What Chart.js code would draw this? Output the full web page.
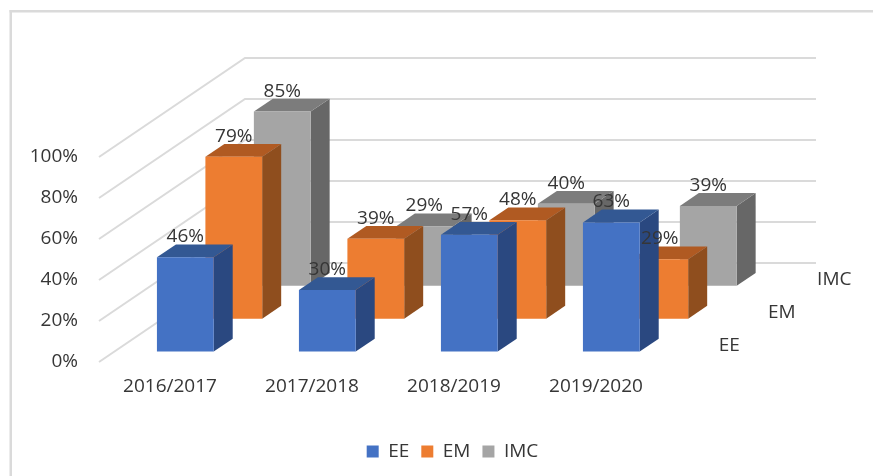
<!DOCTYPE html>
<html>
<head>
<meta charset="utf-8">
<style>
html,body{margin:0;padding:0;background:#fff;}
#wrap{position:relative;width:873px;height:476px;overflow:hidden;}
canvas{display:block;}
</style>
<script src="https://cdn.jsdelivr.net/npm/chart.js@4"></script>
</head>
<body>
<div id="wrap"><canvas id="c" width="873" height="476"></canvas></div>
<script>
const categories = ['2016/2017','2017/2018','2018/2019','2019/2020'];
const seriesEE  = [46,30,57,63];
const seriesEM  = [79,39,48,29];
const seriesIMC = [85,29,40,39];
const yTicks = [0,20,40,60,80,100];

const FONT = '"Open Sans"';
const SIZE = 19;
const INK = '#363636';
const GRID = '#DADADA';
const faces = [
  {front:'#4472C4', top:'#335893', side:'#2A4880'},
  {front:'#ED7D31', top:'#B05A22', side:'#8F4E1E'},
  {front:'#A5A5A5', top:'#7C7C7C', side:'#676767'}
];
// oblique projection of the depth axis
const DEPTH = {dx:146, dy:-99};
const ROW = {start:0.105, step:0.332, box:0.13};

function depthOffset(frac){ return {x:DEPTH.dx*frac, y:DEPTH.dy*frac}; }

function drawBox(ctx, el, idx){
  const f = faces[idx];
  const o = depthOffset(ROW.start + ROW.step*idx);
  const d = depthOffset(ROW.box);
  const l = el.x - el.width/2 + o.x, r = el.x + el.width/2 + o.x;
  const t = el.y + o.y, b = el.base + o.y;
  const poly = (pts, col) => {
    ctx.beginPath();
    pts.forEach((p,i)=> i?ctx.lineTo(p[0],p[1]):ctx.moveTo(p[0],p[1]));
    ctx.closePath(); ctx.fillStyle = col; ctx.fill();
  };
  poly([[r,t],[r+d.x,t+d.y],[r+d.x,b+d.y],[r,b]], f.side);
  poly([[l,t],[l+d.x,t+d.y],[r+d.x,t+d.y],[r,t]], f.top);
  poly([[l,t],[r,t],[r,b],[l,b]], f.front);
}

const box3d = {
  id:'box3d',
  beforeDatasetsDraw(chart){
    const {ctx, scales:{x,y}} = chart;
    ctx.save();
    ctx.strokeStyle = GRID; ctx.lineWidth = 2;
    yTicks.forEach(v=>{
      const py = y.getPixelForValue(v);
      ctx.beginPath();
      ctx.moveTo(x.left, py);
      ctx.lineTo(x.left+DEPTH.dx, py+DEPTH.dy);
      ctx.lineTo(x.right+DEPTH.dx+3, py+DEPTH.dy);
      ctx.stroke();
    });
    for(let i=chart.data.datasets.length-1;i>=0;i--){
      chart.getDatasetMeta(i).data.forEach(el=>drawBox(ctx, el, i));
    }
    ctx.font = SIZE+'px '+FONT; ctx.fillStyle = INK;
    ctx.textAlign='center'; ctx.textBaseline='middle';
    for(let i=chart.data.datasets.length-1;i>=0;i--){
      const o = depthOffset(ROW.start + ROW.step*i);
      chart.getDatasetMeta(i).data.forEach((el,k)=>{
        ctx.fillText(chart.data.datasets[i].data[k]+'%', el.x+o.x, el.y+o.y-20.5);
      });
    }
    chart.data.datasets.forEach((ds,i)=>{
      const o = depthOffset(ROW.start + ROW.step*i);
      ctx.fillText(ds.label, x.right+o.x+47+4*i, y.bottom+o.y-6);
    });
    ctx.restore();
    return false;
  }
};

const frame = {
  id:'frame',
  beforeDraw(chart){
    const c = chart.ctx;
    c.save();
    c.fillStyle='#fff'; c.fillRect(0,0,chart.width,chart.height);
    c.fillStyle=GRID;
    c.fillRect(9.5,10,chart.width-9.5,2.5);
    c.fillRect(9.5,10,2.5,chart.height-10);
    c.restore();
  }
};

new Chart(document.getElementById('c'),{
  type:'bar',
  data:{labels:categories,datasets:[
    {label:'EE', data:seriesEE, backgroundColor:faces[0].front},
    {label:'EM', data:seriesEM, backgroundColor:faces[1].front},
    {label:'IMC',data:seriesIMC,backgroundColor:faces[2].front}
  ]},
  plugins:[frame,box3d],
  options:{
    responsive:false, animation:false,
    layout:{padding:{left:24,right:-8,top:157,bottom:5}},
    datasets:{bar:{grouped:false,barPercentage:1,categoryPercentage:0.4}},
    plugins:{
      tooltip:{enabled:false},
      legend:{position:'bottom',
        labels:{boxWidth:12,boxHeight:12,padding:12,color:INK,font:{family:FONT,size:SIZE}}}
    },
    scales:{
      x:{grid:{display:false},border:{display:false},
        ticks:{color:INK,padding:5,maxRotation:0,font:{family:FONT,size:SIZE}},
        afterFit(s){s.height=68;}},
      y:{min:0,max:100,grid:{display:false},border:{display:false},
        ticks:{stepSize:20,padding:13,color:INK,font:{family:FONT,size:SIZE},callback:v=>v+'%'},
        afterFit(s){s.width=75;}},
      spacer:{type:'linear',position:'right',min:0,max:1,grid:{display:false},border:{display:false},
        ticks:{display:false},afterFit(s){s.width=214;}}
    }
  }
});
</script>
</body>
</html>
